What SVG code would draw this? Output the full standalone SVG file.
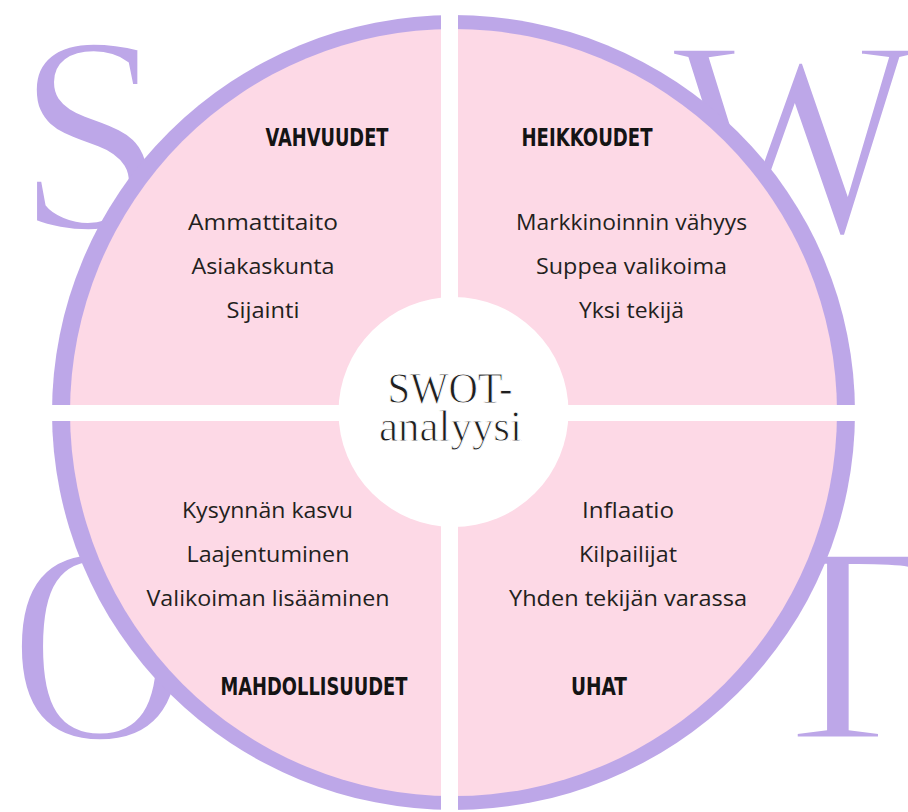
<svg xmlns="http://www.w3.org/2000/svg" width="908" height="812" viewBox="0 0 908 812">
  <style>
    /* large initials: a white outline is painted over the fill to thin the strokes */
    .big { font-family: "Liberation Serif", "DejaVu Serif", serif; font-size: 282px; fill: #bda7e8; stroke: #ffffff; stroke-width: 5px; text-anchor: middle; }
    .head { font-family: "Liberation Sans Narrow", "DejaVu Sans Condensed", "Liberation Sans", sans-serif; font-weight: bold; font-size: 25px; fill: #141414; text-anchor: middle; }
    .item { font-family: "Open Sans", "Noto Sans", "DejaVu Sans", sans-serif; font-size: 22.5px; fill: #231f20; text-anchor: middle; }
    .title { font-family: "Liberation Serif", "DejaVu Serif", serif; font-size: 44px; fill: #1f1f1f; stroke: #ffffff; stroke-width: 0.9px; text-anchor: middle; }
  </style>
  <rect width="908" height="812" fill="#ffffff"/>

  <!-- large initials behind the wheel -->
  <g id="initials">
    <text class="big" transform="translate(91,229) scale(0.95,1)">S</text>
    <text class="big" transform="translate(794,233) scale(0.92,1)">W</text>
    <text class="big" transform="translate(100,739) scale(0.89,1)" font-size="275">O</text>
    <text class="big" transform="translate(838,739)">T</text>
  </g>

  <!-- wheel: lavender rim, pink face -->
  <g id="wheel">
    <ellipse cx="453.5" cy="412.5" rx="401.5" ry="397.5" fill="#bda7e8"/>
    <circle cx="453.5" cy="412.5" r="383.5" fill="#fdd9e6"/>
    <!-- white cross splitting the wheel into quarters -->
    <rect x="441" y="0" width="17" height="812" fill="#ffffff"/>
    <rect x="0" y="405" width="908" height="16" fill="#ffffff"/>
  </g>

  <g id="strengths">
    <text class="head" x="327" y="146" textLength="123" lengthAdjust="spacingAndGlyphs">VAHVUUDET</text>
    <text class="item" x="263" y="230" textLength="150" lengthAdjust="spacingAndGlyphs">Ammattitaito</text>
    <text class="item" x="263" y="274" textLength="143" lengthAdjust="spacingAndGlyphs">Asiakaskunta</text>
    <text class="item" x="263" y="318" textLength="73" lengthAdjust="spacingAndGlyphs">Sijainti</text>
  </g>

  <g id="weaknesses">
    <text class="head" x="587" y="146" textLength="131" lengthAdjust="spacingAndGlyphs">HEIKKOUDET</text>
    <text class="item" x="631.5" y="230" textLength="231" lengthAdjust="spacingAndGlyphs">Markkinoinnin vähyys</text>
    <text class="item" x="631.5" y="274" textLength="191" lengthAdjust="spacingAndGlyphs">Suppea valikoima</text>
    <text class="item" x="631.5" y="318" textLength="105" lengthAdjust="spacingAndGlyphs">Yksi tekijä</text>
  </g>

  <g id="opportunities">
    <text class="item" x="267.5" y="518" textLength="171" lengthAdjust="spacingAndGlyphs">Kysynnän kasvu</text>
    <text class="item" x="268" y="562" textLength="163" lengthAdjust="spacingAndGlyphs">Laajentuminen</text>
    <text class="item" x="268" y="606" textLength="243" lengthAdjust="spacingAndGlyphs">Valikoiman lisääminen</text>
    <text class="head" x="314" y="695" textLength="187" lengthAdjust="spacingAndGlyphs">MAHDOLLISUUDET</text>
  </g>

  <g id="threats">
    <text class="item" x="628" y="518" textLength="92" lengthAdjust="spacingAndGlyphs">Inflaatio</text>
    <text class="item" x="628" y="562" textLength="98" lengthAdjust="spacingAndGlyphs">Kilpailijat</text>
    <text class="item" x="628" y="606" textLength="238" lengthAdjust="spacingAndGlyphs">Yhden tekijän varassa</text>
    <text class="head" x="599" y="695" textLength="56" lengthAdjust="spacingAndGlyphs">UHAT</text>
  </g>

  <g id="hub">
    <circle cx="453.5" cy="412" r="115" fill="#ffffff"/>
    <text class="title" x="450" y="403" textLength="125" lengthAdjust="spacingAndGlyphs">SWOT-</text>
    <text class="title" x="450.5" y="441" textLength="143" lengthAdjust="spacingAndGlyphs">analyysi</text>
  </g>
</svg>
